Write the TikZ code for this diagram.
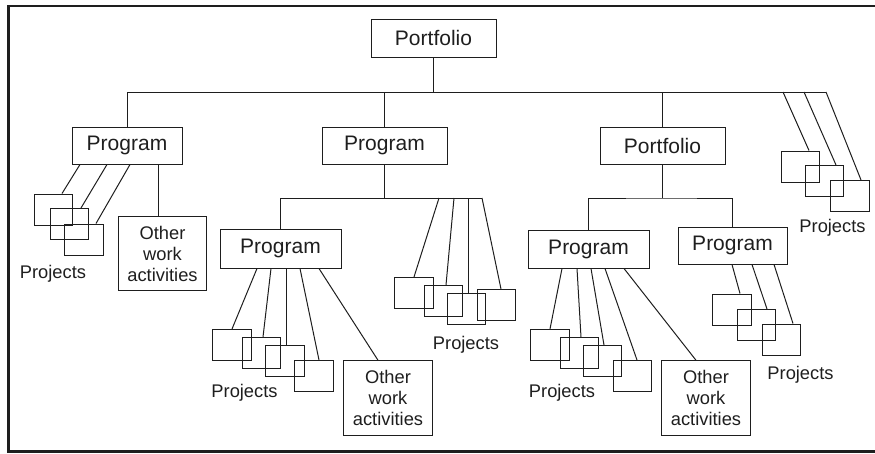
\documentclass[tikz,border=0pt]{standalone}
\usepackage{fontspec}
\setmainfont{Liberation Sans}
\usepackage{tikz}
\definecolor{inkdark}{RGB}{30,30,30}
\tikzset{
  unit/.style={rectangle, draw=inkdark, line width=1pt, inner sep=0pt,
    minimum height=37, font=\fontsize{21}{24}\selectfont, text=inkdark},
  prj/.style={rectangle, draw=inkdark, line width=1pt, inner sep=0pt,
    minimum width=38.5, minimum height=31},
  work/.style={rectangle, draw=inkdark, line width=1pt, inner sep=0pt,
    minimum width=88.5, minimum height=74.5, align=center,
    font=\fontsize{18.3}{21}\selectfont, text=inkdark},
  tag/.style={anchor=base, inner sep=0pt, font=\fontsize{18.3}{21}\selectfont, text=inkdark},
  link/.style={line width=1pt, color=inkdark}
}

\begin{document}
\begin{tikzpicture}[x=1pt, y=-1pt]
  \useasboundingbox (0,0) rectangle (875,453);

  % ── Frame ──────────────────────────────────────────────────────────────────
  \draw[line width=2.5pt, color=inkdark] (875,6) -- (8.5,6) -- (8.5,451.5) -- (875,451.5);

  % ── Top level ──────────────────────────────────────────────────────────────
  \node[unit, minimum width=125, minimum height=38] (pfTop) at (433.5,38) {Portfolio};

  \node[unit, minimum width=110] (prgA) at (127,145.5) {Program};
  \node[unit, minimum width=125] (prgB) at (384.5,145.5) {Program};
  \node[unit, minimum width=125] (pfB)  at (662.5,145.5) {Portfolio};

  \coordinate (barR) at (826,92);
  \draw[link] (pfTop.south) -- (pfTop.south |- barR);
  \draw[link] (prgA.north) |- (barR);
  \draw[link] (prgB.north) -- (prgB.north |- barR);
  \draw[link] (pfB.north) -- (pfB.north |- barR);

  % projects hanging off the top bar
  \node[prj] (pjR1) at (800.5,166.5) {};
  \node[prj] (pjR2) at (824.5,181) {};
  \node[prj] (pjR3) at (850,196) {};
  \draw[link] ([xshift=-43]barR) -- ([xshift=8.5]pjR1.north);
  \draw[link] ([xshift=-22]barR) -- ([xshift=11.5]pjR2.north);
  \draw[link] (barR) -- ([xshift=11]pjR3.north);
  \node[tag] (lbR) at (832.5,232) {Projects};

  % ── Left program ───────────────────────────────────────────────────────────
  \node[prj] (pjA1) at (53.5,209.5) {};
  \node[prj] (pjA2) at (69.5,224) {};
  \node[prj] (pjA3) at (84,239.5) {};
  \draw[link] ([xshift=-47]prgA.south) -- ([xshift=8.5]pjA1.north);
  \draw[link] ([xshift=-20]prgA.south) -- ([xshift=11.5]pjA2.north);
  \draw[link] ([xshift=3]prgA.south) -- ([xshift=12]pjA3.north);
  \node[tag] (lbA) at (53,278) {Projects};

  \node[work] (wkA) at (162.5,253.5) {Other\\work\\activities};
  \draw[link] ([xshift=31]prgA.south) -- ([xshift=31]prgA.south |- wkA.north);

  % ── Middle program ─────────────────────────────────────────────────────────
  \node[unit, minimum width=121, minimum height=39] (prgC) at (280.5,248.5) {Program};
  \coordinate (barM) at (482,198);
  \draw[link] (prgB.south) -- (prgB.south |- barM);
  \draw[link] (prgC.north) |- (barM);

  \node[prj] (pjM1) at (414,293) {};
  \node[prj] (pjM2) at (443.5,301) {};
  \node[prj] (pjM3) at (466.5,308.5) {};
  \node[prj] (pjM4) at (496.5,305) {};
  \draw[link] ([xshift=-43]barM) -- (pjM1.north);
  \draw[link] ([xshift=-28]barM) -- ([xshift=2.5]pjM2.north);
  \draw[link] ([xshift=-14]barM) -- ([xshift=1.5]pjM3.north);
  \draw[link] (barM) -- ([xshift=4.5]pjM4.north);
  \node[tag] (lbM) at (466,349) {Projects};

  \node[prj] (pjC1) at (232,345) {};
  \node[prj] (pjC2) at (261.5,353) {};
  \node[prj] (pjC3) at (285,361) {};
  \node[prj] (pjC4) at (314,376) {};
  \node[work] (wkC) at (388,398) {Other\\work\\activities};
  \draw[link] ([xshift=-23.5]prgC.south) -- (pjC1.north);
  \draw[link] ([xshift=-9.5]prgC.south) -- ([xshift=1.5]pjC2.north);
  \draw[link] ([xshift=5.5]prgC.south) -- ([xshift=1]pjC3.north);
  \draw[link] ([xshift=19.5]prgC.south) -- ([xshift=5]pjC4.north);
  \draw[link] ([xshift=38.5]prgC.south) -- ([xshift=-10]wkC.north);
  \node[tag] (lbC) at (244.5,397) {Projects};

  % ── Inner portfolio ────────────────────────────────────────────────────────
  \node[unit, minimum width=121, minimum height=38] (prgD) at (588.5,249) {Program};
  \node[unit, minimum width=109] (prgE) at (732.5,245.5) {Program};
  \coordinate (barP) at (662.5,198);
  \draw[link] (pfB.south) -- (barP);
  \draw[link] (prgD.north) |- (barP) -| (prgE.north);

  \node[prj] (pjD1) at (550,345) {};
  \node[prj] (pjD2) at (579.5,353) {};
  \node[prj] (pjD3) at (602.5,361) {};
  \node[prj] (pjD4) at (632.5,376) {};
  \node[work] (wkD) at (706,398) {Other\\work\\activities};
  \draw[link] ([xshift=-26.5]prgD.south) -- (pjD1.north);
  \draw[link] ([xshift=-11.5]prgD.south) -- ([xshift=1.5]pjD2.north);
  \draw[link] ([xshift=2.5]prgD.south) -- ([xshift=1.5]pjD3.north);
  \draw[link] ([xshift=16.5]prgD.south) -- ([xshift=4.5]pjD4.north);
  \draw[link] ([xshift=35.5]prgD.south) -- ([xshift=-10]wkD.north);
  \node[tag] (lbD) at (562,397) {Projects};

  \node[prj] (pjE1) at (732,309.5) {};
  \node[prj] (pjE2) at (756.5,325) {};
  \node[prj] (pjE3) at (781.5,339.5) {};
  \draw[link] ([xshift=-0.5]prgE.south) -- ([xshift=8]pjE1.north);
  \draw[link] ([xshift=19.5]prgE.south) -- ([xshift=10.5]pjE2.north);
  \draw[link] ([xshift=41.5]prgE.south) -- ([xshift=11.5]pjE3.north);
  \node[tag] (lbE) at (800.5,379) {Projects};
\end{tikzpicture}
\end{document}
